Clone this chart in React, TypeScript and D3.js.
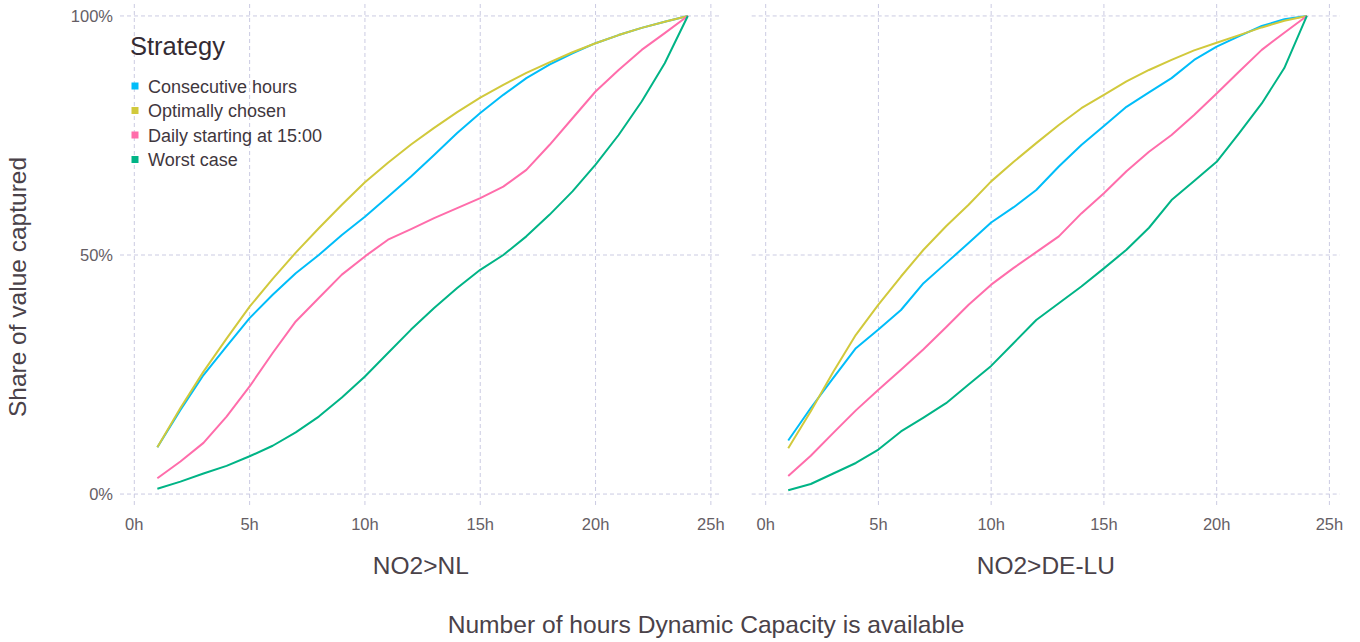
import * as d3 from 'd3'

const HOURS = d3.range(1, 25)

const STRATEGIES = ['Consecutive hours', 'Optimally chosen', 'Daily starting at 15:00', 'Worst case']
const COLORS = ['#00BDF9', '#D1C93C', '#FF6DAB', '#00B486']

// NO2>NL, share in %
const NL_CONSECUTIVE = [9.8, 17.6, 24.9, 30.9, 36.8, 41.7, 46.2, 50.0, 54.2, 58.0, 62.2, 66.4, 70.9, 75.5, 79.7, 83.5, 87.0, 89.8, 92.2, 94.3, 96.0, 97.5, 98.8, 100]
const NL_OPTIMAL = [9.8, 18.0, 25.6, 32.5, 39.2, 45.0, 50.5, 55.6, 60.5, 65.2, 69.3, 73.1, 76.6, 79.9, 82.9, 85.6, 88.1, 90.3, 92.4, 94.3, 96.0, 97.5, 98.8, 100]
const NL_DAILY = [3.3, 6.8, 10.7, 16.2, 22.5, 29.5, 36.1, 41.0, 45.9, 49.7, 53.2, 55.4, 57.7, 59.8, 61.9, 64.3, 67.8, 73.0, 78.6, 84.2, 88.7, 92.9, 96.4, 100]
const NL_WORST = [1.1, 2.6, 4.3, 5.9, 7.9, 10.1, 12.9, 16.2, 20.2, 24.6, 29.5, 34.4, 38.9, 43.1, 46.9, 50.0, 53.9, 58.4, 63.3, 68.9, 75.1, 82.1, 90.1, 100]

// NO2>DE-LU
const DE_CONSECUTIVE = [11.2, 18.0, 24.3, 30.5, 34.4, 38.5, 44.1, 48.3, 52.5, 56.8, 60.0, 63.6, 68.5, 73.0, 77.0, 81.0, 84.0, 87.0, 90.8, 93.6, 95.8, 97.9, 99.3, 100]
const DE_OPTIMAL = [9.6, 17.3, 25.6, 33.3, 39.6, 45.5, 51.1, 56.0, 60.5, 65.4, 69.5, 73.4, 77.2, 80.7, 83.5, 86.3, 88.7, 90.8, 92.8, 94.4, 96.0, 97.6, 99.0, 100]
const DE_DAILY = [3.8, 8.0, 12.8, 17.5, 21.8, 26.0, 30.3, 34.9, 39.6, 43.8, 47.3, 50.6, 53.9, 58.7, 62.9, 67.5, 71.6, 75.1, 79.3, 83.8, 88.4, 92.9, 96.5, 100]
const DE_WORST = [0.8, 2.1, 4.3, 6.5, 9.3, 13.1, 16.0, 19.0, 22.9, 26.8, 31.6, 36.4, 39.9, 43.4, 47.2, 51.1, 55.7, 61.5, 65.5, 69.5, 75.5, 81.7, 89.1, 100]

const PANELS = [
  { label: 'NO2>NL', series: [NL_CONSECUTIVE, NL_OPTIMAL, NL_DAILY, NL_WORST], x0: 120, x1: 721.7 },
  { label: 'NO2>DE-LU', series: [DE_CONSECUTIVE, DE_OPTIMAL, DE_DAILY, DE_WORST], x0: 751.7, x1: 1340 },
]

const X_TICKS = [0, 5, 10, 15, 20, 25]
const Y_TICKS = [0, 50, 100]

const W = 1360
const H = 642
const PANEL_TOP = 4
const PANEL_BOTTOM = 506
const FONT = '"Liberation Sans", Arial, Helvetica, sans-serif'
const GRID = '#cbcbe2'
const TICK_TEXT = '#655e65'
const TITLE_TEXT = '#4a4249'

const y = d3.scaleLinear().domain([-2.5, 102.5]).range([PANEL_BOTTOM, PANEL_TOP])

function Panel({ panel, showY }: { panel: typeof PANELS[number]; showY: boolean }) {
  const x = d3.scaleLinear().domain([-0.62, 25.47]).range([panel.x0, panel.x1])
  const line = d3.line<number>()
    .x((_, i) => x(HOURS[i]))
    .y(d => y(d))

  return (
    <g>
      {/* grid */}
      {X_TICKS.map(t => (
        <line key={'gx' + t} x1={x(t)} x2={x(t)} y1={PANEL_TOP} y2={PANEL_BOTTOM}
          stroke={GRID} strokeWidth={1} strokeDasharray="4,3" />
      ))}
      {Y_TICKS.map(t => (
        <line key={'gy' + t} x1={panel.x0} x2={panel.x1} y1={y(t)} y2={y(t)}
          stroke={GRID} strokeWidth={1} strokeDasharray="4,3" />
      ))}

      {/* lines */}
      {panel.series.map((s, i) => (
        <path key={STRATEGIES[i]} d={line(s) ?? ''} fill="none" stroke={COLORS[i]}
          strokeWidth={2} strokeLinejoin="round" />
      ))}

      {/* x tick labels */}
      {X_TICKS.map(t => (
        <text key={'tx' + t} x={x(t)} y={530} textAnchor="middle" fontSize={16.5}
          fill={TICK_TEXT} fontFamily={FONT}>{t}h</text>
      ))}

      {/* y tick labels */}
      {showY && Y_TICKS.map(t => (
        <text key={'ty' + t} x={113} y={y(t) + 5.8} textAnchor="end" fontSize={16.5}
          fill={TICK_TEXT} fontFamily={FONT}>{t}%</text>
      ))}

      {/* strip label at the bottom */}
      <text x={(panel.x0 + panel.x1) / 2} y={574} textAnchor="middle" fontSize={24.5}
        fill={TITLE_TEXT} fontFamily={FONT}>{panel.label}</text>
    </g>
  )
}

function Legend() {
  return (
    <g fontFamily={FONT}>
      <text x={130} y={55} fontSize={25.5} fill="#342b33">Strategy</text>
      {STRATEGIES.map((s, i) => (
        <g key={s} transform={`translate(0, ${86 + i * 24.5})`}>
          <rect x={131.5} y={-3.5} width={7} height={7} fill={COLORS[i]} />
          <text x={148} y={6.5} fontSize={18} fill="#3f373e">{s}</text>
        </g>
      ))}
    </g>
  )
}

export default function App() {
  return (
    <div style={{ position: 'absolute', left: 0, top: 0 }}>
      <svg width={W} height={H} style={{ display: 'block', background: '#fff' }}>
        {PANELS.map((p, i) => <Panel key={p.label} panel={p} showY={i === 0} />)}
        <Legend />
        <text x={706} y={633} textAnchor="middle" fontSize={24.6} fill={TITLE_TEXT}
          fontFamily={FONT}>Number of hours Dynamic Capacity is available</text>
        <text transform="translate(26, 287) rotate(-90)" textAnchor="middle" fontSize={24.5}
          fill={TITLE_TEXT} fontFamily={FONT}>Share of value captured</text>
      </svg>
    </div>
  )
}
